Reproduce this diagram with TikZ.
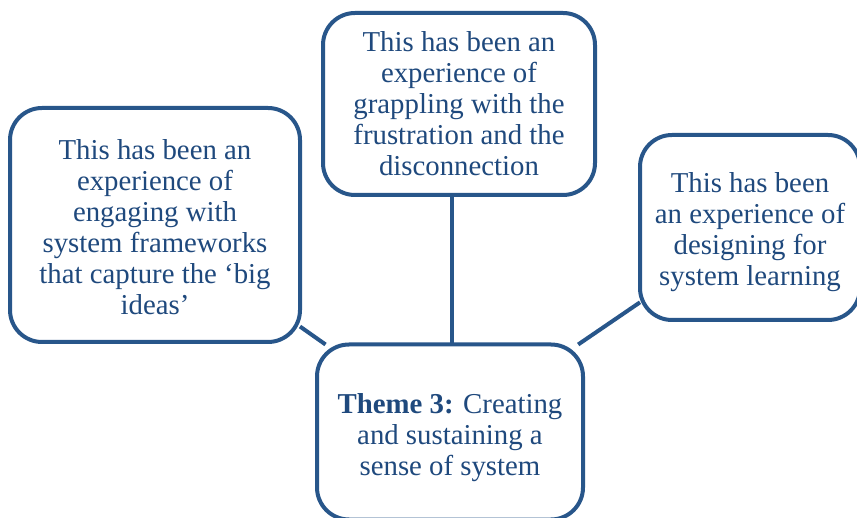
\documentclass[tikz,border=0pt]{standalone}
\usepackage{fontspec}
\setmainfont{Liberation Serif}
\definecolor{frameblue}{RGB}{40,86,138}
\definecolor{textblue}{RGB}{31,73,125}
\newcommand{\lift}[1]{\rule{0pt}{#1}}
\tikzset{
  box/.style={draw=frameblue, line width=4pt, rounded corners=32pt, fill=white,
    inner sep=0pt, outer sep=0pt, align=center, text=textblue,
    font=\fontsize{28.8}{31}\selectfont},
  link/.style={draw=frameblue, line width=4pt}
}
\begin{document}
\begin{tikzpicture}[x=1pt,y=1pt]
  \path[use as bounding box] (0,0) rectangle (857,-518);

  % outer experience boxes
  \node[box, minimum width=290pt, minimum height=234pt] (left) at (155,-225)
    {\lift{24pt}This has been an\\experience of\\engaging with\\system frameworks\\that capture the ‘big\\ideas’};
  \node[box, minimum width=272pt, minimum height=182pt] (top) at (459,-104)
    {This has been an\\experience of\\grappling with the\\frustration and the\\disconnection};
  \node[box, minimum width=220pt, minimum height=185pt] (right) at (750,-227.5)
    {\lift{29.5pt}This has been\\an experience of\\designing for\\system learning};

  % central theme box
  \node[box, minimum width=266pt, minimum height=175pt] (theme) at (450,-432)
    {\lift{31.5pt}\textbf{Theme 3:} Creating\\and sustaining a\\sense of system};

  % connectors to the theme
  \draw[link] (left) -- (theme);
  \draw[link] (right) -- (theme);
  \draw[link] ([xshift=2pt]theme.north) -- ([xshift=2pt]theme.north |- top.south);
\end{tikzpicture}
\end{document}
